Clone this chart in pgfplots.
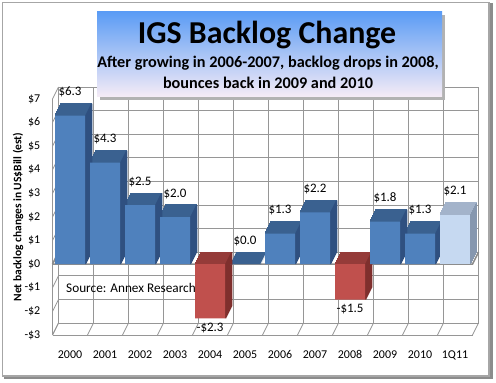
\documentclass[border=0pt]{standalone}
\usepackage{pgfplots}
\usepackage{pgfplotstable}
\pgfplotsset{compat=1.18}
\usepackage{fontspec}
\setmainfont{Carlito}
\usetikzlibrary{shadows}
\definecolor{bfront}{HTML}{4F81BD}
\definecolor{btop}{HTML}{3A6190}
\definecolor{bside}{HTML}{2F5080}
\definecolor{rfront}{HTML}{C0504D}
\definecolor{rtop}{HTML}{953B39}
\definecolor{rside}{HTML}{7F2F2D}
\definecolor{lfront}{HTML}{C6D9F1}
\definecolor{ltop}{HTML}{A3B3CA}
\definecolor{lside}{HTML}{8697AF}
\definecolor{gridc}{HTML}{969696}
\definecolor{zeroc}{HTML}{8C8C8C}
\definecolor{ttop}{HTML}{5B9CF5}
\definecolor{tbot}{HTML}{F6ECF6}

\pgfplotstableread{
x y lab
0 6.3 {\$6.3}
1 4.3 {\$4.3}
2 2.5 {\$2.5}
3 2.0 {\$2.0}
5 0.0 {\$0.0}
6 1.3 {\$1.3}
7 2.2 {\$2.2}
9 1.8 {\$1.8}
10 1.3 {\$1.3}
}\bluedata
\pgfplotstableread{
x y lab
4 -2.3 {-\$2.3}
8 -1.5 {-\$1.5}
}\reddata
\pgfplotstableread{
x y lab
11 2.1 {\$2.1}
}\lightdata

\pgfplotsset{
  common/.style={
    anchor=south west, scale only axis, width=420bp, height=236bp,
    xmin=-0.5, xmax=11.5, ymin=-3, ymax=7, clip=false},
  depth/.style={ybar, bar width=30bp, bar shift=0pt, fill=#1, draw=#1, line width=1.2bp},
  side/.style={ybar, bar width=1.5bp, bar shift=15.5bp, fill=#1, draw=none},
}
\tikzset{lbl/.style={font=\fontsize{13}{15}\selectfont, text=black, inner sep=0pt, anchor=base}}

\begin{document}
\begin{tikzpicture}
\useasboundingbox (0,0) rectangle (496bp,383bp);
\fill[white] (0,0) rectangle (496bp,383bp);
% outer frame
\draw[line width=3bp, black!45] (491bp,380bp) -- (491bp,5.5bp) -- (4bp,5.5bp);
\draw[line width=1.2bp, black!35] (2.5bp,7bp) rectangle (489bp,380.5bp);

% back wall
\begin{axis}[common, at={(58.5bp,60bp)},
  xtick={-0.5,0.5,...,11.5}, ytick={-3,-2,...,7},
  xticklabels={}, yticklabels={},
  grid=major, grid style={gridc, line width=0.8bp},
  axis line style={gridc, line width=0.8bp}, tick style={draw=none}]
\end{axis}

% floor and left wall connectors
\foreach \i in {0,...,12} {
  \draw[gridc, line width=0.8bp] (52.5bp+\i*35bp,48bp) -- ++(6bp,12bp);
}
\foreach \j in {0,...,10} {
  \draw[gridc, line width=0.8bp] (52.5bp,48bp+\j*23.6bp) -- ++(6bp,12bp);
}
\draw[gridc, line width=0.8bp] (52.5bp,48bp) -- (472.5bp,48bp);
\draw[gridc, line width=0.8bp] (52.5bp,48bp) -- (52.5bp,284bp);
% zero line
\draw[zeroc, line width=1.6bp] (52.5bp,118.8bp) -- (472.5bp,118.8bp) -- ++(6bp,12bp);
\draw[zeroc, line width=1.6bp] (52.5bp,118.8bp) -- ++(6bp,12bp);

% bars
\begin{axis}[common, at={(52.5bp,48bp)},
  axis line style={draw=none}, tick style={draw=none},
  xtick={0,...,11},
  xticklabels={2000,2001,2002,2003,2004,2005,2006,2007,2008,2009,2010,1Q11},
  ytick={-3,-2,...,7},
  yticklabels={-\$3,-\$2,-\$1,\$0,\$1,\$2,\$3,\$4,\$5,\$6,\$7},
  tick label style={font=\fontsize{12}{14}\selectfont, text=black, inner sep=0pt},
  xticklabel style={anchor=north, yshift=-15.5bp},
  yticklabel style={anchor=east, xshift=-12bp},
  ylabel={Net backlog changes in US\$Bill (est)},
  ylabel style={font=\fontsize{11.5}{13}\selectfont\bfseries, at={(axis description cs:-0.0821,0.5)}, anchor=center},
  point meta=explicit symbolic,
  ]
\pgfplotsinvokeforeach{1,...,12}{
  \addplot[depth=btop, xshift=#1*0.5bp, yshift=#1*1bp, forget plot] table[x=x,y=y] {\bluedata};
  \addplot[depth=rtop, xshift=#1*0.5bp, yshift=#1*1bp, forget plot] table[x=x,y=y] {\reddata};
  \addplot[depth=ltop, xshift=#1*0.5bp, yshift=#1*1bp, forget plot] table[x=x,y=y] {\lightdata};
}
\pgfplotsinvokeforeach{0,...,12}{
  \addplot[side=bside, xshift=#1*0.5bp, yshift=#1*1bp, forget plot] table[x=x,y=y] {\bluedata};
  \addplot[side=rside, xshift=#1*0.5bp, yshift=#1*1bp, forget plot] table[x=x,y=y] {\reddata};
  \addplot[side=lside, xshift=#1*0.5bp, yshift=#1*1bp, forget plot] table[x=x,y=y] {\lightdata};
}
\addplot[ybar, bar width=30bp, bar shift=0pt, fill=bfront, draw=none,
  nodes near coords, nodes near coords style={lbl, yshift=20bp}]
  table[x=x,y=y,meta=lab] {\bluedata};
\addplot[ybar, bar width=30bp, bar shift=0pt, fill=rfront, draw=none,
  nodes near coords, nodes near coords style={lbl, yshift=-13bp}]
  table[x=x,y=y,meta=lab] {\reddata};
\addplot[ybar, bar width=30bp, bar shift=0pt, fill=lfront, draw=none,
  nodes near coords, nodes near coords style={lbl, yshift=20bp}]
  table[x=x,y=y,meta=lab] {\lightdata};
\end{axis}

\node[anchor=west, font=\fontsize{13.3}{15}\selectfont, inner sep=0pt] at (66bp,95.5bp) {Source: Annex Research};

% title box
\fill[black!30] (100bp,283bp) rectangle (445bp,368bp);
\shade[top color=ttop, bottom color=tbot] (97bp,286bp) rectangle (442bp,371bp);
\node[font=\fontsize{32}{32}\selectfont\bfseries, inner sep=0pt] at (267bp,348bp) {IGS Backlog Change};
\node[font=\fontsize{16.3}{16}\selectfont\bfseries, inner sep=0pt] at (268bp,320bp) {After growing in 2006-2007, backlog drops in 2008,};
\node[font=\fontsize{16.3}{16}\selectfont\bfseries, inner sep=0pt] at (268bp,300.5bp) {bounces back in 2009 and 2010};
\end{tikzpicture}
\end{document}
